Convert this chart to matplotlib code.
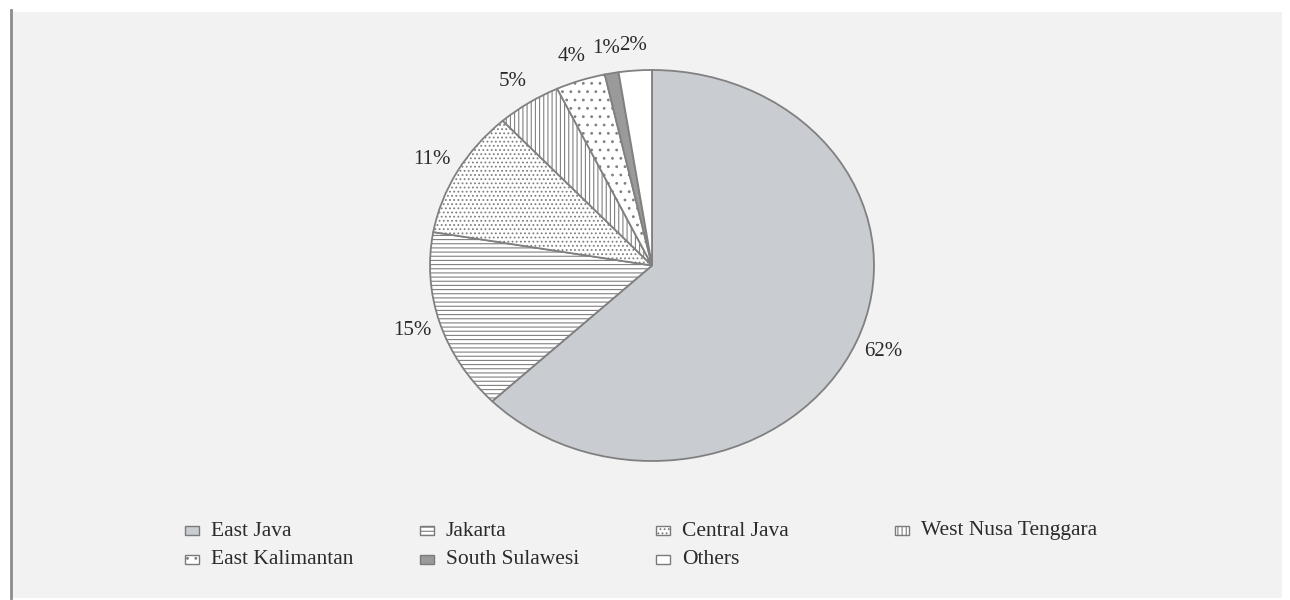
import matplotlib.pyplot as plt
from matplotlib.patches import Rectangle

regions = ['East Java', 'Jakarta', 'Central Java', 'West Nusa Tenggara',
           'East Kalimantan', 'South Sulawesi', 'Others']
shares = [62.6, 14.9, 10.5, 4.7, 3.6, 1.0, 2.4]
pct_labels = ['62%', '15%', '11%', '5%', '4%', '1%', '2%']

face_cols = ['#c9ccd0', 'white', 'white', 'white', 'white', '#9a9a9a', 'white']
hatches = [None, '----', '....', '||||', '..', None, None]

plt.rcParams['font.family'] = ['Liberation Serif', 'DejaVu Serif']
plt.rcParams['hatch.linewidth'] = 0.8

W, H = 1290, 600
fig = plt.figure(figsize=(12.9, 6.0), dpi=100, facecolor='white')

# grey panel behind everything
fig.patches.append(Rectangle((13 / W, 1 - 598 / H), (1282 - 13) / W, (598 - 12) / H,
                             transform=fig.transFigure, facecolor='#f2f2f2',
                             edgecolor='none', zorder=-5))
fig.lines.append(plt.Line2D([11 / W, 11 / W], [1 - 598 / H, 1 - 10 / H],
                            transform=fig.transFigure, color='#8c8c8c', lw=2, zorder=-4))

# pie axes sized to the (slightly stretched) ellipse of the original
ax = fig.add_axes([430 / W, 1 - 461 / H, 444 / W, 391 / H])
ax.set_zorder(2)
ax.patch.set_visible(False)
wedges, texts = ax.pie(shares, labels=pct_labels, startangle=90, counterclock=False,
                       labeldistance=1.13, colors=face_cols,
                       wedgeprops=dict(edgecolor='#808080', linewidth=1.3),
                       textprops=dict(fontsize=15, color='#2b2b2b'))
for w, h in zip(wedges, hatches):
    if h:
        w.set_hatch(h)
for t in texts:
    t.set_ha('center')
    t.set_va('center')
ax.set_aspect('auto')
ax.set_xlim(-1, 1)
ax.set_ylim(-1, 1)
ax.axis('off')

# legend laid out on a fixed grid like the original
col_x = [192, 427, 663, 902]
row_y = [531, 560]
for i, name in enumerate(regions):
    x = col_x[i % 4]
    y = row_y[i // 4]
    fig.patches.append(Rectangle(((x - 7) / W, 1 - (y + 4) / H), 14 / W, 9 / H,
                                 transform=fig.transFigure, facecolor=face_cols[i],
                                 edgecolor='#7a7a7a', hatch=hatches[i], lw=1.0))
    fig.text((x + 19) / W, 1 - y / H, name, fontsize=15.5, color='#2b2b2b',
             ha='left', va='center')

fig.savefig('out.png', dpi=100, facecolor='white')
